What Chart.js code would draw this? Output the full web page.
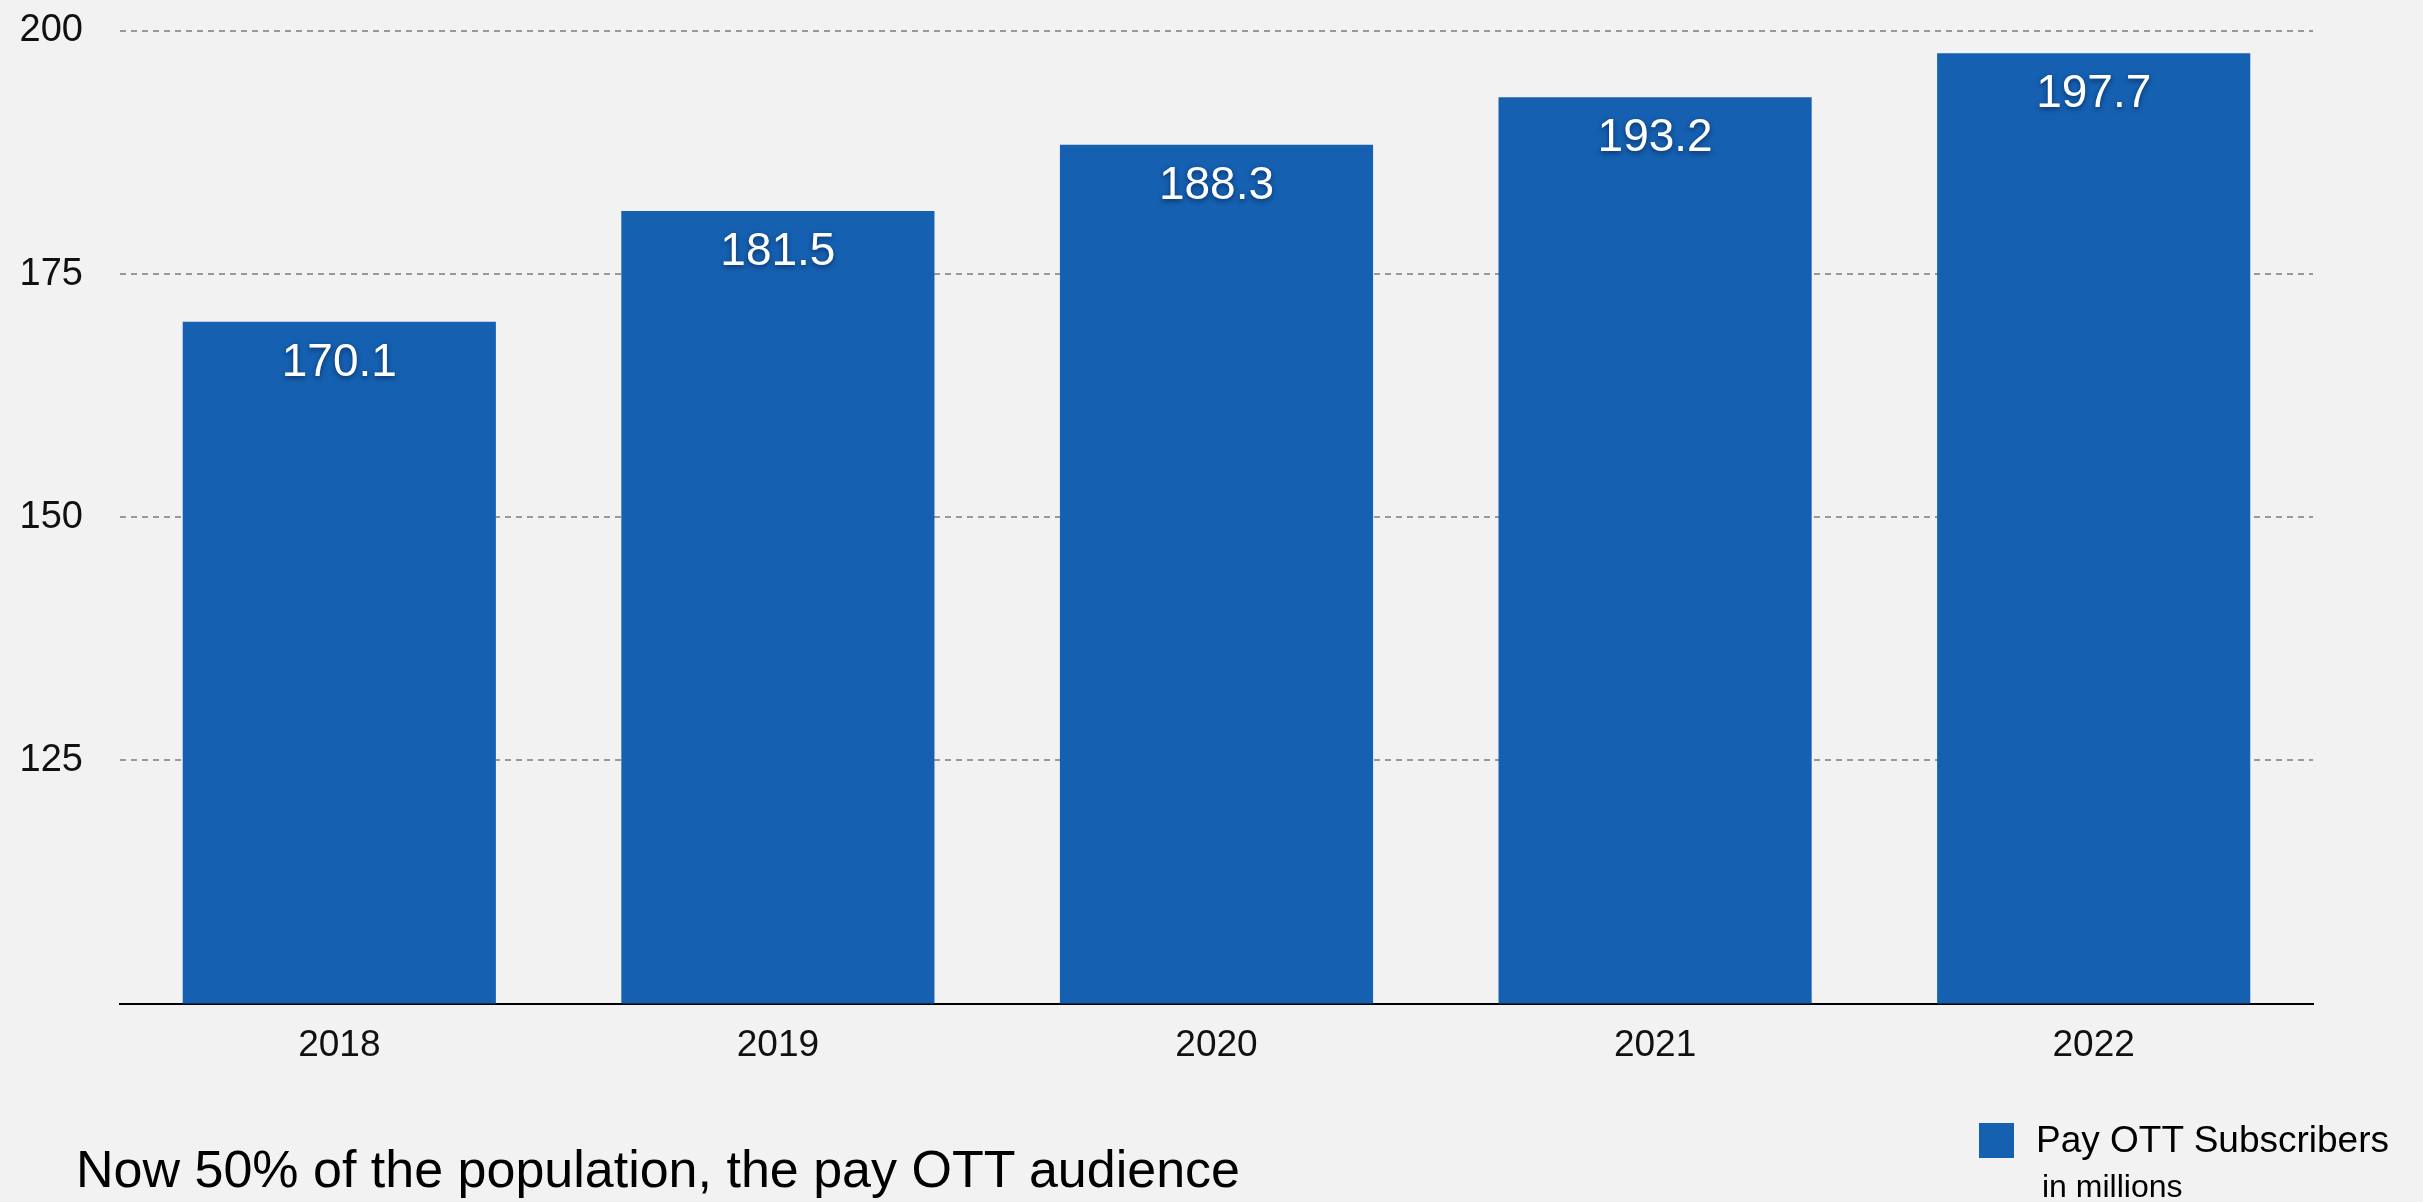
<!DOCTYPE html>
<html>
<head>
<meta charset="utf-8">
<script src="https://cdn.jsdelivr.net/npm/chart.js@4"></script>
<style>
  html, body { margin: 0; padding: 0; background: #f2f2f2; }
  #wrap { position: relative; width: 2423px; height: 1202px; background: #f2f2f2; overflow: hidden; font-family: "Liberation Sans", Arial, Helvetica, sans-serif; }
  #c { position: absolute; left: 0; top: 0; }
  .txt { position: absolute; white-space: nowrap; color: #000; line-height: 1; }
  #title { left: 76px; top: 1143px; font-size: 52px; }
  #legbox { position: absolute; left: 1979px; top: 1123px; width: 35px; height: 35px; background: #1560b0; }
  #legtxt { left: 2036px; top: 1121px; font-size: 37px; }
  #legsub { left: 2042px; top: 1170px; font-size: 32px; }
</style>
</head>
<body>
<div id="wrap">
  <canvas id="c" width="2423" height="1202"></canvas>
  <div class="txt" id="title">Now 50% of the population, the pay OTT audience</div>
  <div id="legbox"></div>
  <div class="txt" id="legtxt">Pay OTT Subscribers</div>
  <div class="txt" id="legsub">in millions</div>
</div>
<script>
const categories = ["2018", "2019", "2020", "2021", "2022"];
const subscribers = [170.1, 181.5, 188.3, 193.2, 197.7];
const yTickValues = [125, 150, 175, 200];
const seriesName = "Pay OTT Subscribers";

const FONT = '"Liberation Sans", Arial, Helvetica, sans-serif';
const BAR_COLOR = '#1560b0';

const valueLabels = {
  id: 'valueLabels',
  afterDatasetsDraw(chart) {
    const ctx = chart.ctx;
    const meta = chart.getDatasetMeta(0);
    ctx.save();
    ctx.font = '46px ' + FONT;
    ctx.textAlign = 'center';
    ctx.textBaseline = 'alphabetic';
    ctx.fillStyle = '#ffffff';
    ctx.shadowColor = 'rgba(0,20,60,0.6)';
    ctx.shadowBlur = 5;
    ctx.shadowOffsetX = 0;
    ctx.shadowOffsetY = 2;
    meta.data.forEach((bar, i) => {
      ctx.fillText(subscribers[i].toFixed(1), bar.x, bar.y + 54);
    });
    ctx.restore();
  }
};

new Chart(document.getElementById('c'), {
  type: 'bar',
  data: {
    labels: categories,
    datasets: [{
      label: seriesName,
      data: subscribers,
      backgroundColor: BAR_COLOR,
      borderWidth: 0,
      barPercentage: 0.714,
      categoryPercentage: 1.0
    }]
  },
  options: {
    responsive: false,
    animation: false,
    devicePixelRatio: 1,
    layout: { padding: { top: 31, right: 110, bottom: 114, left: 0 } },
    plugins: {
      legend: { display: false },
      title: { display: false },
      tooltip: { enabled: false }
    },
    scales: {
      x: {
        offset: true,
        grid: { display: false, drawTicks: false },
        border: { display: true, color: '#000000', width: 2 },
        ticks: { color: '#111111', font: { family: FONT, size: 37 }, padding: 20 }
      },
      y: {
        min: 100,
        max: 200,
        afterFit(scale) { scale.width = 120; },
        afterBuildTicks(scale) { scale.ticks = yTickValues.map(v => ({ value: v })); },
        grid: { color: '#999999', lineWidth: 2, drawTicks: true, tickLength: 37, tickColor: 'rgba(0,0,0,0)' },
        border: { display: false, dash: [6, 5] },
        ticks: { color: '#111111', font: { family: FONT, size: 38, lineHeight: 0.6 }, padding: 0 }
      }
    }
  },
  plugins: [valueLabels]
});
</script>
</body>
</html>
